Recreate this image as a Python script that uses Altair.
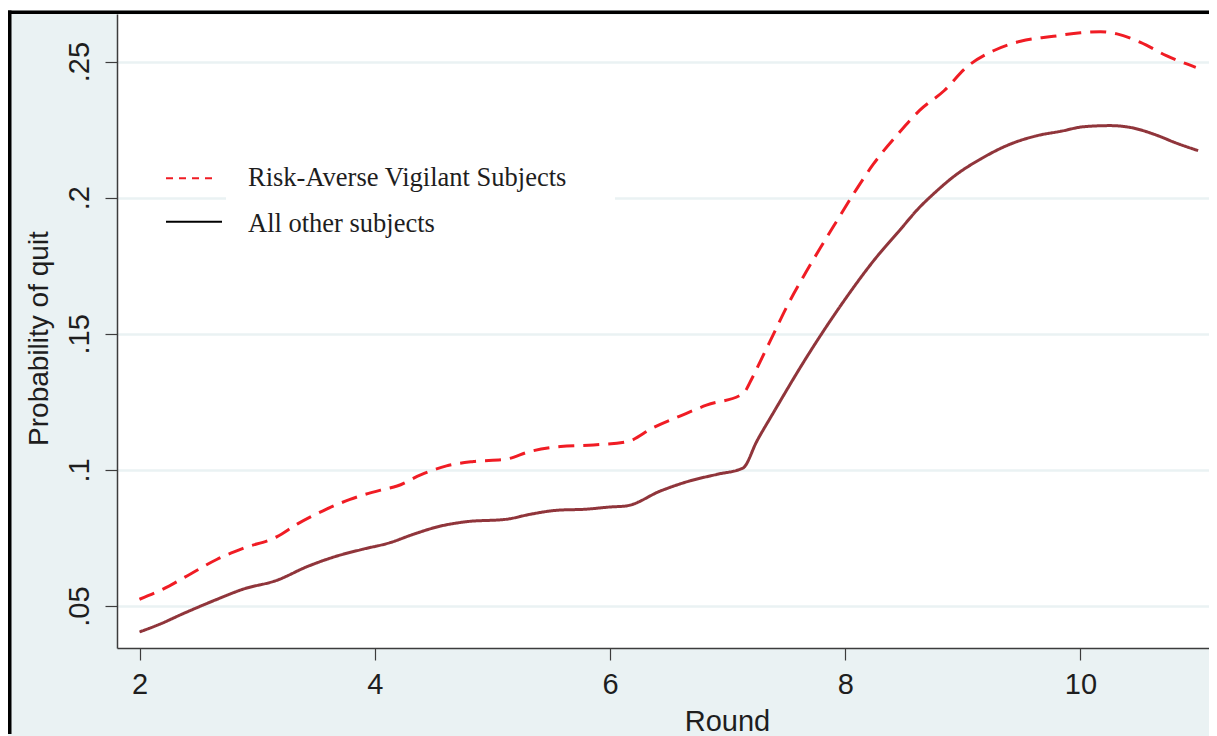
import altair as alt
import pandas as pd

# ---------------- data ----------------
ra_round = [2.00, 2.20, 2.43, 2.66, 2.88, 3.17, 3.34, 3.56, 3.79, 4.05, 4.19, 4.39,
            4.61, 4.84, 5.12, 5.32, 5.58, 5.86, 6.14, 6.37, 6.60, 6.82, 7.13, 7.21,
            7.28, 7.39, 7.50, 7.64, 7.79, 7.93, 8.07, 8.24, 8.46, 8.63, 8.84, 9.03,
            9.26, 9.49, 9.77, 10.00, 10.17, 10.31, 10.51, 10.73, 10.98]
ra_prob = [0.0525, 0.0562, 0.0617, 0.0672, 0.0712, 0.0755, 0.0801, 0.0850, 0.0892,
           0.0926, 0.0941, 0.0982, 0.1015, 0.1031, 0.1040, 0.1068, 0.1086, 0.1092,
           0.1103, 0.1156, 0.1199, 0.1238, 0.1280, 0.1339, 0.1401, 0.1499, 0.1597,
           0.1707, 0.1817, 0.1916, 0.2014, 0.2124, 0.2240, 0.2320, 0.2393, 0.2479,
           0.2540, 0.2575, 0.2593, 0.2606, 0.2610, 0.2602, 0.2571, 0.2522, 0.2479]

ot_round = [2.00, 2.17, 2.37, 2.66, 2.88, 3.17, 3.42, 3.68, 3.90, 4.13, 4.33, 4.56,
            4.78, 5.12, 5.32, 5.55, 5.80, 6.00, 6.14, 6.43, 6.68, 6.91, 7.13, 7.25,
            7.39, 7.67, 8.01, 8.24, 8.46, 8.63, 8.75, 8.95, 9.15, 9.37, 9.63, 9.83,
            10.03, 10.25, 10.45, 10.62, 10.82, 11.00]
ot_prob = [0.0405, 0.0433, 0.0472, 0.0525, 0.0562, 0.0595, 0.0644, 0.0684, 0.0709,
           0.0733, 0.0764, 0.0794, 0.0810, 0.0819, 0.0837, 0.0852, 0.0856, 0.0864,
           0.0868, 0.0923, 0.0960, 0.0984, 0.1007, 0.1107, 0.1211, 0.1413, 0.1634,
           0.1768, 0.1879, 0.1964, 0.2014, 0.2087, 0.2142, 0.2191, 0.2228, 0.2244,
           0.2261, 0.2265, 0.2256, 0.2234, 0.2200, 0.2173]

x_ticks = [2, 4, 6, 8, 10]
y_ticks = [0.05, 0.10, 0.15, 0.20, 0.25]
series_names = ["Risk-Averse Vigilant Subjects", "All other subjects"]
x_title = "Round"
y_title = "Probability of quit"

# ---------------- styling ----------------
BG = "#EAF2F3"
RED = "#F01C24"
MAROON = "#90353B"
AXIS = "#3c3c3c"
TXT = "#1e1e1e"
SANS = "Liberation Sans"
SERIF = "Liberation Serif"
W = 1092

df = pd.concat([
    pd.DataFrame({"round": ra_round, "prob": ra_prob, "series": series_names[0]}),
    pd.DataFrame({"round": ot_round, "prob": ot_prob, "series": series_names[1]}),
], ignore_index=True)

xs = alt.Scale(domain=[1.8087, 11.0925], nice=False, zero=False)
ys = alt.Scale(domain=[0.0346, 0.2675], nice=False, zero=False)

x_axis = alt.Axis(values=x_ticks, title=x_title, grid=False, format="d",
                  domainColor=AXIS, domainWidth=1.5, tickColor=AXIS, tickWidth=1.2,
                  tickSize=12, labelFont=SANS, labelFontSize=29, labelColor=TXT,
                  labelPadding=10, labelFlush=False, labelOverlap=False,
                  titleFont=SANS, titleFontSize=29, titleFontWeight="normal",
                  titleColor=TXT, titleX=610, titleY=82, titleAlign="center",
                  titleBaseline="alphabetic")

y_axis = alt.Axis(values=y_ticks, title=y_title, grid=True, gridColor=BG, gridWidth=2.5,
                  domainColor=AXIS, domainWidth=1.5, tickColor=AXIS, tickWidth=1.2,
                  tickSize=12, labelFont=SANS, labelFontSize=29, labelColor=TXT,
                  labelAngle=270, labelAlign="center", labelBaseline="alphabetic",
                  labelPadding=17, labelFlush=False, labelOverlap=False,
                  labelExpr="slice(format(datum.value, '.2~f'), 1)",
                  titleFont=SANS, titleFontSize=28, titleFontWeight="normal",
                  titleColor=TXT, titleAngle=270, titleX=-70, titleY=324,
                  titleAlign="center", titleBaseline="alphabetic")

one = pd.DataFrame({"k": [0]})


def box(x1, x2, y1, y2, color):
    return alt.Chart(one).mark_rect(color=color, opacity=1).encode(
        x=alt.value(x1), x2=alt.value(x2), y=alt.value(y1), y2=alt.value(y2))


top_white = box(-109, W, -6, -3.5, "white")
border_top = box(-109, W, -3.5, 0, "black")
border_left = box(-109, -105.5, -3.5, 720, "black")
legend_box = box(109, 498, 140, 245, "white")

leg_red = alt.Chart(one).mark_rule(color=RED, strokeWidth=2, strokeDash=[7, 6]).encode(
    x=alt.value(49), x2=alt.value(100), y=alt.value(164.3))
leg_blk = alt.Chart(one).mark_rule(color="black", strokeWidth=2).encode(
    x=alt.value(49), x2=alt.value(105), y=alt.value(207.7))
leg_t1 = alt.Chart(one).mark_text(text=series_names[0], font=SERIF, fontSize=26.5,
                                  color=TXT, align="left", baseline="alphabetic").encode(
    x=alt.value(131), y=alt.value(172))
leg_t2 = alt.Chart(one).mark_text(text=series_names[1], font=SERIF, fontSize=26.5,
                                  color=TXT, align="left", baseline="alphabetic").encode(
    x=alt.value(131), y=alt.value(217.5))

lines = alt.Chart(df).mark_line(strokeWidth=3, interpolate="monotone").encode(
    x=alt.X("round:Q", scale=xs, axis=x_axis),
    y=alt.Y("prob:Q", scale=ys, axis=y_axis),
    color=alt.Color("series:N", scale=alt.Scale(domain=series_names, range=[RED, MAROON]),
                    legend=None),
    strokeDash=alt.StrokeDash("series:N",
                              scale=alt.Scale(domain=series_names, range=[[16, 9], [1, 0]]),
                              legend=None),
)

chart = alt.layer(
    lines, top_white, border_top, border_left, legend_box,
    leg_red, leg_blk, leg_t1, leg_t2,
).properties(
    width=W, height=634,
    padding={"left": 109, "top": 6, "right": 0, "bottom": 88},
    autosize=alt.AutoSizeParams(type="none"),
).configure(background=BG).configure_view(fill="white", stroke="transparent")

chart.save("out.html", embed_options={"renderer": "svg", "actions": False})
